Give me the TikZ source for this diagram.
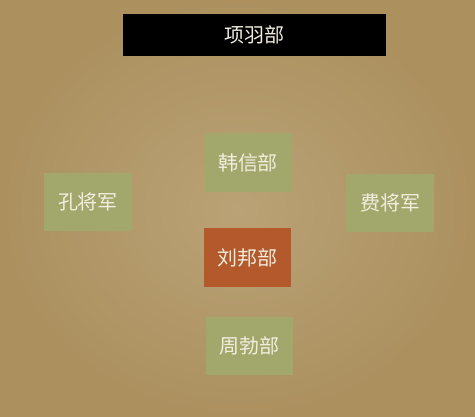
\documentclass[tikz,border=0pt]{standalone}
\usepackage{fontspec}
\newfontfamily\cjk{Noto Sans CJK SC}
\definecolor{bginner}{HTML}{BAA276}
\definecolor{bgouter}{HTML}{AC915F}
\definecolor{boxgreen}{HTML}{A2A86B}
\definecolor{boxorange}{HTML}{B3592B}
\definecolor{txtcream}{HTML}{F2EEDF}
\begin{document}
\begin{tikzpicture}[x=1pt,y=-1pt,
  unit/.style={minimum width=87pt,minimum height=59pt,inner sep=0pt,
    font=\cjk\fontsize{20}{23}\selectfont,text=txtcream,anchor=center},
  greenbox/.style={unit,fill=boxgreen},
  orangebox/.style={unit,fill=boxorange},
  blackbox/.style={unit,fill=black,minimum width=263pt,minimum height=42pt}]
\useasboundingbox (0,0) rectangle (475,417);
\shade[inner color=bginner,outer color=bgouter] (0,0) rectangle (475,417);
\node[blackbox] (xiang) at (254.5,35) {项羽部};
\node[greenbox] (han) at (248,162.5) {韩信部};
\node[greenbox,minimum width=88pt,minimum height=58pt] (kong) at (88,202) {孔将军};
\node[greenbox,minimum width=88pt,minimum height=58pt] (fei) at (390,203) {费将军};
\node[orangebox] (liu) at (247.5,257.5) {刘邦部};
\node[greenbox,minimum height=58pt] (zhou) at (249.5,346) {周勃部};
\end{tikzpicture}
\end{document}
